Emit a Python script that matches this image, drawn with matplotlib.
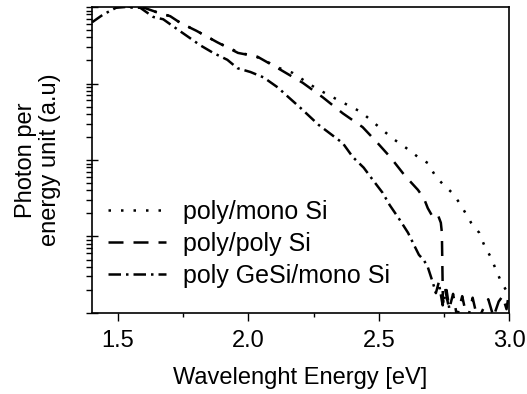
import numpy as np
import matplotlib
matplotlib.use('Agg')
import matplotlib.pyplot as plt
from matplotlib.ticker import LogLocator, MultipleLocator, NullFormatter

plt.rcParams['font.family'] = ['Liberation Sans', 'DejaVu Sans']

# values: energy [eV] and log10 of intensity (a.u.)
mono_e = [1.50, 1.55, 1.60, 1.65, 1.70, 1.74, 1.80, 1.88, 1.96, 2.03, 2.08, 2.12,
          2.169, 2.258, 2.346, 2.431, 2.477, 2.515, 2.558, 2.604, 2.65, 2.688,
          2.719, 2.75, 2.785, 2.815, 2.854, 2.885, 2.904, 2.931, 2.95, 2.969,
          2.988, 3.0]
mono_log = [4.05, 4.0, 3.99, 3.93, 3.88, 3.79, 3.69, 3.54, 3.41, 3.35, 3.27, 3.2,
            3.14, 2.94, 2.78, 2.63, 2.5, 2.39, 2.27, 2.16, 2.04, 1.96,
            1.78, 1.67, 1.56, 1.41, 1.18, 1.05, 0.89, 0.72, 0.56, 0.41,
            0.3, 0.26]

poly_e = [1.50, 1.55, 1.60, 1.65, 1.70, 1.74, 1.80, 1.88, 1.96, 2.035, 2.123,
          2.208, 2.285, 2.362, 2.438, 2.496, 2.546, 2.592, 2.615, 2.65, 2.673,
          2.688, 2.708, 2.727, 2.738, 2.742, 2.746,
          2.755, 2.77, 2.785, 2.80, 2.82, 2.84, 2.86, 2.88,
          2.90, 2.92, 2.94, 2.96, 2.975, 2.99, 3.0]
poly_log = [4.05, 4.0, 3.99, 3.93, 3.88, 3.79, 3.69, 3.54, 3.4, 3.35, 3.18,
            3.01, 2.82, 2.61, 2.43, 2.22, 2.03, 1.83, 1.74, 1.61, 1.5,
            1.37, 1.25, 1.28, 1.18, 1.05, 0.13,
            0.3, 0.05, 0.25, -0.05, 0.22, -0.1, 0.2, -0.1,
            0.05, 0.18, -0.05, 0.15, 0.22, 0.05, 0.28]

gesi_e = [1.40, 1.442, 1.492, 1.527, 1.585, 1.635, 1.673, 1.731, 1.769, 1.815,
          1.865, 1.919, 1.958, 2.008, 2.058, 2.112, 2.154, 2.20, 2.269, 2.30,
          2.362, 2.40, 2.442, 2.477, 2.515, 2.542, 2.58, 2.612, 2.635, 2.654,
          2.673, 2.688, 2.708, 2.719, 2.73, 2.745, 2.76, 2.775]
gesi_log = [3.8, 3.9, 3.99, 4.0, 3.99, 3.87, 3.84, 3.7, 3.61, 3.5,
            3.4, 3.31, 3.2, 3.15, 3.08, 2.95, 2.82, 2.68, 2.46, 2.38,
            2.22, 2.04, 1.9, 1.74, 1.57, 1.41, 1.22, 1.05, 0.89, 0.76,
            0.69, 0.6, 0.39, 0.26, 0.4, 0.1, 0.3, -0.05]

labels = ['poly/mono Si', 'poly/poly Si', 'poly GeSi/mono Si']

fig = plt.figure(figsize=(5.27, 3.94), dpi=100)
ax = fig.add_axes([0.1746, 0.2056, 0.7915, 0.7766])

lw = 1.8
ax.plot(mono_e, 10 ** np.array(mono_log), color='black', lw=lw,
        linestyle=(0, (1, 4)), label=labels[0])
ax.plot(poly_e, 10 ** np.array(poly_log), color='black', lw=lw,
        linestyle=(0, (6, 4)), label=labels[1])
ax.plot(gesi_e, 10 ** np.array(gesi_log), color='black', lw=lw,
        linestyle=(0, (5, 2, 1, 2)), label=labels[2])

ax.set_yscale('log')
ax.set_xlim(1.4, 3.0)
ax.set_ylim(1, 1e4)
ax.xaxis.set_major_locator(MultipleLocator(0.5))
ax.xaxis.set_minor_locator(MultipleLocator(0.25))
ax.yaxis.set_major_locator(LogLocator(base=10, numticks=10))
ax.yaxis.set_minor_locator(LogLocator(base=10, subs=np.arange(2, 10), numticks=10))
ax.yaxis.set_major_formatter(NullFormatter())
ax.yaxis.set_minor_formatter(NullFormatter())

fs = 17
ax.tick_params(axis='x', which='major', direction='out', length=6, width=1,
               labelsize=fs, pad=6)
ax.tick_params(axis='x', which='minor', direction='out', length=3, width=1)
ax.tick_params(axis='y', which='major', direction='inout', length=9, width=1)
ax.tick_params(axis='y', which='minor', direction='out', length=4, width=1)
for s in ax.spines.values():
    s.set_linewidth(1.2)

ax.set_xlabel('Wavelenght Energy [eV]', fontsize=fs, labelpad=11)
ax.set_ylabel('Photon per\nenergy unit (a.u)', fontsize=fs, labelpad=14,
              linespacing=1.15)

ax.legend(loc='lower left', frameon=False, fontsize=18, handlelength=2.3,
          handletextpad=0.7, labelspacing=0.32, borderaxespad=0.0,
          bbox_to_anchor=(0.015, 0.05))

fig.savefig('out.png', dpi=100)
